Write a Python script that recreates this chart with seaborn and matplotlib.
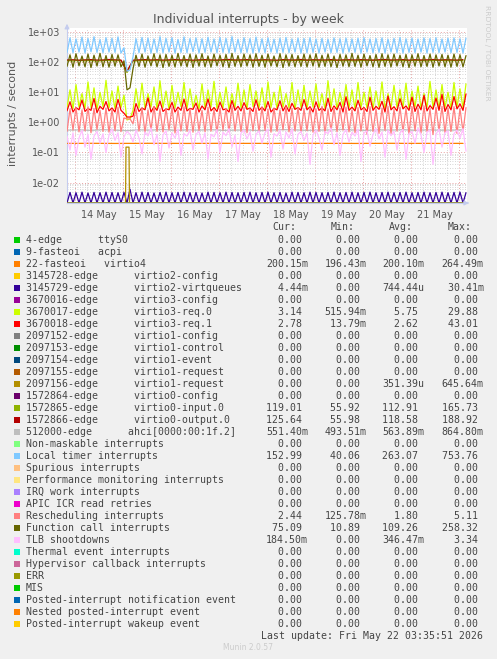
import numpy as np
import pandas as pd
import matplotlib
matplotlib.use("Agg")
import matplotlib.pyplot as plt
import matplotlib.dates as mdates
from matplotlib.patches import Rectangle
from matplotlib.ticker import LogLocator, NullFormatter, FuncFormatter
import seaborn as sns

# ---- data ----
t_start = "2026-05-13 20:00"
x_range = ["2026-05-13 20:00", "2026-05-22 04:00"]

local_timer = [
    210, 640, 205, 590, 215, 680, 200, 610, 220, 700, 210, 560, 205, 650, 215, 620,
    210, 690, 200, 300, 50, 55, 150, 600, 205, 660, 215, 630, 200, 590, 210, 700,
    205, 620, 215, 650, 200, 570, 210, 690, 205, 610, 220, 640, 200, 600, 210, 670,
    215, 590, 205, 660, 210, 620, 200, 700, 215, 580, 205, 650, 210, 610, 200, 680,
    210, 600, 205, 640, 215, 580, 200, 620, 210, 660, 205, 590, 215, 630, 200, 610,
    205, 650, 210, 590, 200, 620, 215, 580, 205, 640, 210, 600, 200, 630, 215, 590,
    210, 620, 200, 650, 215, 590, 205, 610, 210, 640, 200, 580, 215, 620, 205, 660,
    200, 600, 210, 630, 205, 590, 215, 640, 200, 610, 210, 650, 205, 590, 215, 620,
    205, 640, 210, 600, 200, 630,
]
function_call = [
    72, 175, 68, 190, 75, 160, 70, 185, 66, 170, 74, 195, 70, 165, 68, 180,
    73, 175, 70, 110, 12, 14, 60, 170, 72, 185, 68, 160, 75, 190, 70, 175,
    66, 180, 72, 170, 69, 195, 74, 165, 70, 185, 67, 175, 73, 190, 70, 160,
    68, 185, 75, 170, 70, 180, 66, 195, 72, 165, 70, 185, 74, 175, 68, 190,
    72, 170, 68, 185, 74, 160, 70, 190, 66, 175, 73, 180, 70, 165, 72, 185,
    69, 175, 74, 190, 68, 170, 72, 185, 70, 160, 66, 180, 73, 175, 70, 195,
    72, 170, 68, 185, 75, 165, 70, 180, 67, 190, 72, 175, 69, 185, 74, 170,
    70, 180, 66, 175, 73, 190, 70, 165, 72, 185, 68, 175, 74, 180, 70, 170,
    68, 185, 72, 175, 70, 165,
]
virtio3_req0 = [
    3.0, 12, 2.8, 18, 3.2, 9, 2.9, 22, 3.1, 14, 2.7, 10, 3.3, 25, 3.0, 11,
    2.8, 16, 3.1, 8, 1.2, 1.3, 2.5, 13, 3.0, 20, 2.9, 9, 3.2, 15, 2.8, 24,
    3.1, 11, 2.7, 17, 3.0, 10, 3.3, 21, 2.9, 13, 3.1, 8, 2.8, 19, 3.0, 12,
    3.2, 23, 2.9, 10, 3.0, 15, 2.7, 9, 3.1, 20, 3.0, 12, 2.8, 18, 3.3, 11,
    3.0, 14, 2.8, 22, 3.1, 10, 2.9, 16, 3.2, 9, 3.0, 21, 2.7, 12, 3.1, 17,
    2.9, 11, 3.2, 19, 3.0, 9, 2.8, 24, 3.1, 13, 2.9, 10, 3.3, 18, 3.0, 12,
    2.8, 21, 3.1, 10, 3.0, 15, 2.9, 11, 3.2, 22, 2.7, 9, 3.0, 17, 3.1, 12,
    3.0, 20, 2.8, 11, 3.2, 16, 2.9, 9, 3.1, 23, 3.0, 12, 2.8, 18, 3.1, 10,
    2.9, 21, 3.2, 13, 3.0, 19,
]
virtio3_req1 = [
    2.4, 4.8, 2.2, 3.1, 2.6, 5.5, 2.3, 2.9, 2.5, 6.2, 2.1, 3.4, 2.7, 4.9, 2.4, 3.0,
    2.2, 5.8, 2.5, 2.0, 1.5, 1.5, 1.6, 4.2, 2.3, 3.0, 2.6, 6.5, 2.2, 3.3, 2.5, 5.1,
    2.3, 2.8, 2.6, 4.6, 2.2, 3.2, 2.5, 5.9, 2.4, 2.9, 2.7, 4.4, 2.2, 3.5, 2.6, 6.0,
    2.4, 3.1, 2.3, 4.7, 2.6, 2.8, 2.2, 5.3, 2.5, 3.4, 2.4, 4.5, 2.7, 3.0, 2.3, 5.6,
    2.5, 3.2, 2.4, 4.9, 2.2, 2.9, 2.6, 5.2, 2.4, 3.6, 2.3, 4.3, 2.7, 3.1, 2.5, 5.7,
    2.6, 3.3, 2.2, 4.8, 2.5, 3.0, 2.4, 6.3, 2.3, 3.5, 2.6, 4.6, 2.2, 7.1, 2.5, 3.2,
    2.4, 5.4, 2.6, 3.1, 2.3, 6.8, 2.5, 3.4, 2.7, 5.0, 2.2, 7.5, 2.6, 3.3, 2.4, 6.1,
    2.8, 3.5, 2.5, 6.9, 2.3, 4.0, 2.6, 7.8, 2.4, 3.6, 2.7, 6.4, 2.5, 8.5, 2.3, 3.9,
    2.6, 7.2, 2.8, 4.1, 2.5, 8.8,
]
rescheduling = [
    0.50, 2.8, 0.55, 3.1, 0.48, 2.6, 0.52, 3.3, 0.45, 2.9, 0.58, 2.5, 0.50, 3.0, 0.47, 2.7,
    0.53, 3.2, 0.49, 1.4, 1.3, 1.3, 0.9, 2.8, 0.51, 3.0, 0.46, 2.6, 0.55, 3.4, 0.50, 2.7,
    0.48, 2.9, 0.56, 3.1, 0.44, 2.6, 0.52, 3.3, 0.50, 2.8, 0.47, 3.0, 0.54, 2.5, 0.49, 3.2,
    0.51, 2.7, 0.46, 3.0, 0.55, 2.9, 0.48, 3.4, 0.52, 2.6, 0.50, 3.1, 0.45, 2.8, 0.53, 3.0,
    0.49, 3.2, 0.54, 2.7, 0.47, 3.0, 0.51, 2.6, 0.56, 3.3, 0.48, 2.9, 0.52, 3.1, 0.46, 2.8,
    0.53, 3.0, 0.47, 2.8, 0.50, 3.4, 0.44, 2.7, 0.52, 3.1, 0.49, 2.9, 0.55, 3.2, 0.48, 2.6,
    0.45, 3.1, 0.52, 2.9, 0.40, 3.3, 0.50, 2.8, 0.43, 3.0, 0.54, 3.4, 0.42, 2.7, 0.51, 3.2,
    0.48, 2.9, 0.41, 3.3, 0.53, 3.0, 0.44, 3.5, 0.50, 2.8, 0.39, 3.2, 0.52, 3.4, 0.45, 3.0,
    0.50, 3.3, 0.43, 2.9, 0.48, 3.1,
]
tlb_shootdowns = [
    0.35, 0.12, 0.45, 0.08, 0.30, 0.55, 0.15, 0.40, 0.06, 0.35, 0.50, 0.20, 0.42, 0.10, 0.38, 0.60,
    0.25, 0.45, 0.07, 0.33, 0.50, 0.40, 0.22, 0.55, 0.30, 0.09, 0.48, 0.35, 0.65, 0.18, 0.40, 0.05,
    0.38, 0.52, 0.14, 0.45, 0.30, 0.60, 0.08, 0.42, 0.35, 0.55, 0.12, 0.40, 0.50, 0.20, 0.45, 0.06,
    0.40, 0.33, 0.58, 0.10, 0.47, 0.36, 0.62, 0.15, 0.38, 0.05, 0.44, 0.55, 0.28, 0.48, 0.11, 0.40,
    0.52, 0.20, 0.45, 0.60, 0.07, 0.42, 0.35, 0.55, 0.13, 0.48, 0.30, 0.62, 0.09, 0.40, 0.50, 0.25,
    0.44, 0.04, 0.38, 0.56, 0.30, 0.12, 0.50, 0.42, 0.65, 0.18, 0.45, 0.08, 0.40, 0.58, 0.22, 0.47,
    0.35, 0.60, 0.05, 0.45, 0.52, 0.16, 0.40, 0.62, 0.28, 0.48, 0.07, 0.55, 0.36, 0.50, 0.12, 0.44,
    0.58, 0.06, 0.42, 0.50, 0.20, 0.65, 0.38, 0.10, 0.47, 0.55, 0.04, 0.40, 0.60, 0.15, 0.45, 0.52,
    0.08, 0.42, 0.55, 0.30, 0.62, 0.11,
]
virtio2_virtqueues = [
    0, 0.0047, 0, 0.0046, 0, 0.0048, 0, 0.0045, 0, 0.0047, 0, 0.0046, 0, 0.0048, 0, 0.0047,
    0, 0.0046, 0, 0.0047, 0, 0.0060, 0, 0.0046, 0, 0.0048, 0, 0.0047, 0, 0.0045, 0, 0.0047,
    0, 0.0048, 0, 0.0046, 0, 0.0047, 0, 0.0048, 0, 0.0046, 0, 0.0047, 0, 0.0045, 0, 0.0048,
    0, 0.0047, 0, 0.0046, 0, 0.0048, 0, 0.0047, 0, 0.0046, 0, 0.0047, 0, 0.0048, 0, 0.0046,
    0, 0.0047, 0, 0.0048, 0, 0.0046, 0, 0.0047, 0, 0.0045, 0, 0.0048, 0, 0.0047, 0, 0.0046,
    0, 0.0048, 0, 0.0047, 0, 0.0046, 0, 0.0047, 0, 0.0048, 0, 0.0046, 0, 0.0047, 0, 0.0048,
    0, 0.0046, 0, 0.0047, 0, 0.0048, 0, 0.0046, 0, 0.0047, 0, 0.0048, 0, 0.0046, 0, 0.0047,
    0, 0.0048, 0, 0.0046, 0, 0.0047, 0, 0.0048, 0, 0.0046, 0, 0.0047, 0, 0.0048, 0, 0.0046,
    0, 0.0047, 0, 0.0048, 0, 0.0046,
]
virtio0_input = [
    112, 110, 114, 111, 113, 109, 112, 115, 110, 113, 45, 108, 112, 114, 111, 113,
    110, 112, 115, 111, 113, 109, 112, 114, 110, 113, 111, 115, 112, 110, 114, 112,
    113, 111, 109, 112, 114, 110, 113, 112, 115, 111, 112, 110, 113, 114, 111, 112,
    110, 113, 112, 115, 111, 114, 112, 110, 113, 111, 114, 112, 110, 113, 115, 112,
    111, 113, 112,
]
virtio0_output = [
    118, 120, 116, 119, 121, 117, 118, 122, 119, 117, 50, 116, 119, 121, 118, 120,
    117, 119, 122, 118, 120, 116, 119, 121, 118, 117, 120, 122, 118, 119, 121, 117,
    119, 120, 118, 116, 121, 119, 118, 122, 117, 120, 119, 118, 121, 117, 119, 120,
    118, 121, 119, 117, 120, 122, 118, 119, 121, 117, 120, 118, 119, 122, 118, 120,
    119, 117, 121,
]
ahci = [
    0.55, 0.56, 0.54, 0.57, 0.55, 0.53, 0.56, 0.55, 0.58, 0.54, 0.56, 0.55,
    0.57, 0.54, 0.55, 0.56, 0.53, 0.55, 0.57, 0.56, 0.54, 0.55, 0.56, 0.58,
    0.55, 0.54, 0.56, 0.55, 0.57, 0.54, 0.56, 0.55, 0.55, 0.56,
]
virtio4 = [
    0.200, 0.200, 0.201, 0.200, 0.199, 0.200, 0.200, 0.201, 0.200, 0.200, 0.199, 0.200,
    0.200, 0.201, 0.200, 0.200, 0.200, 0.199, 0.200, 0.200, 0.201, 0.200, 0.200, 0.200,
    0.199, 0.200, 0.200, 0.201, 0.200, 0.200, 0.200, 0.199, 0.200, 0.200,
]
virtio1_request_times = ["2026-05-13 20:00", "2026-05-15 01:15", "2026-05-15 01:30",
                         "2026-05-15 03:00", "2026-05-15 03:15", "2026-05-22 03:30"]
virtio1_request_vals = [0, 0, 0.15, 0.15, 0, 0]

labels = [
    "4-edge      ttyS0", "9-fasteoi   acpi", "22-fasteoi   virtio4",
    "3145728-edge      virtio2-config", "3145729-edge      virtio2-virtqueues",
    "3670016-edge      virtio3-config", "3670017-edge      virtio3-req.0",
    "3670018-edge      virtio3-req.1", "2097152-edge      virtio1-config",
    "2097153-edge      virtio1-control", "2097154-edge      virtio1-event",
    "2097155-edge      virtio1-request", "2097156-edge      virtio1-request",
    "1572864-edge      virtio0-config", "1572865-edge      virtio0-input.0",
    "1572866-edge      virtio0-output.0", "512000-edge      ahci[0000:00:1f.2]",
    "Non-maskable interrupts", "Local timer interrupts", "Spurious interrupts",
    "Performance monitoring interrupts", "IRQ work interrupts", "APIC ICR read retries",
    "Rescheduling interrupts", "Function call interrupts", "TLB shootdowns",
    "Thermal event interrupts", "Hypervisor callback interrupts", "ERR", "MIS",
    "Posted-interrupt notification event", "Nested posted-interrupt event",
    "Posted-interrupt wakeup event",
]
colors = [
    "#00CC00", "#0066B3", "#FF8000", "#FFCC00", "#330099", "#990099", "#CCFF00", "#FF0000",
    "#808080", "#008F00", "#00487D", "#B35A00", "#B38F00", "#6B006B", "#8FB300", "#B30000",
    "#BEBEBE", "#80FF80", "#80C9FF", "#FFC080", "#FFE680", "#AA80FF", "#EE00CC", "#FF8080",
    "#666600", "#FFBFFF", "#00FFCC", "#CC6699", "#999900", "#00CC00", "#0066B3", "#FF8000",
    "#FFCC00",
]
cur = ["0.00", "0.00", "200.15m", "0.00", "4.44m", "0.00", "3.14", "2.78", "0.00", "0.00",
       "0.00", "0.00", "0.00", "0.00", "119.01", "125.64", "551.40m", "0.00", "152.99", "0.00",
       "0.00", "0.00", "0.00", "2.44", "75.09", "184.50m", "0.00", "0.00", "0.00", "0.00",
       "0.00", "0.00", "0.00"]
mins = ["0.00", "0.00", "196.43m", "0.00", "0.00", "0.00", "515.94m", "13.79m", "0.00", "0.00",
        "0.00", "0.00", "0.00", "0.00", "55.92", "55.98", "493.51m", "0.00", "40.06", "0.00",
        "0.00", "0.00", "0.00", "125.78m", "10.89", "0.00", "0.00", "0.00", "0.00", "0.00",
        "0.00", "0.00", "0.00"]
avgs = ["0.00", "0.00", "200.10m", "0.00", "744.44u", "0.00", "5.75", "2.62", "0.00", "0.00",
        "0.00", "0.00", "351.39u", "0.00", "112.91", "118.58", "563.89m", "0.00", "263.07", "0.00",
        "0.00", "0.00", "0.00", "1.80", "109.26", "346.47m", "0.00", "0.00", "0.00", "0.00",
        "0.00", "0.00", "0.00"]
maxs = ["0.00", "0.00", "264.49m", "0.00", "30.41m", "0.00", "29.88", "43.01", "0.00", "0.00",
        "0.00", "0.00", "645.64m", "0.00", "165.73", "188.92", "864.80m", "0.00", "753.76", "0.00",
        "0.00", "0.00", "0.00", "5.11", "258.32", "3.34", "0.00", "0.00", "0.00", "0.00",
        "0.00", "0.00", "0.00"]

# ---- build series ----
t_fine = pd.date_range(t_start, periods=len(local_timer), freq="90min")
t_3h = pd.date_range(t_start, periods=len(virtio0_input), freq="3h")
t_6h = pd.date_range(t_start, periods=len(ahci), freq="6h")
t_zero = pd.to_datetime(x_range)

series = {
    2: (t_6h, virtio4),
    4: (t_fine, virtio2_virtqueues),
    6: (t_fine, virtio3_req0),
    7: (t_fine, virtio3_req1),
    12: (pd.to_datetime(virtio1_request_times), virtio1_request_vals),
    14: (t_3h, virtio0_input),
    15: (t_3h, virtio0_output),
    16: (t_6h, ahci),
    18: (t_fine, local_timer),
    23: (t_fine, rescheduling),
    24: (t_fine, function_call),
    25: (t_fine, tlb_shootdowns),
}

W, H = 497, 659
y_lo, y_hi = 0.00209, 1360

sns.set_style("white")
plt.rcParams["font.family"] = ["DejaVu Sans"]

fig = plt.figure(figsize=(W / 100, H / 100), dpi=100, facecolor="#F0F0F0")
ax = fig.add_axes([67 / W, 1 - 203 / H, 400 / W, 175 / H])
ax.set_facecolor("white")
ax.set_yscale("log")

for k in range(len(labels)):
    t, v = series.get(k, (t_zero, [0, 0]))
    v = np.clip(np.asarray(v, dtype=float), y_lo, None)
    sns.lineplot(x=t, y=v, color=colors[k], linewidth=0.9, estimator=None,
                 ax=ax, legend=False, zorder=3)

ax.set_ylim(y_lo, y_hi)
ax.set_xlim(pd.to_datetime(x_range[0]), pd.to_datetime(x_range[1]))

# grids as in rrdtool: minor grey dotted, major red dotted
ax.yaxis.set_major_locator(LogLocator(base=10, numticks=12))
ax.yaxis.set_minor_locator(LogLocator(base=10, subs=np.arange(2, 10), numticks=12))
ax.yaxis.set_major_formatter(FuncFormatter(lambda v, p: f"{v:.0e}"))
ax.yaxis.set_minor_formatter(NullFormatter())
ax.xaxis.set_major_locator(mdates.DayLocator())
ax.xaxis.set_major_formatter(NullFormatter())
ax.xaxis.set_minor_locator(mdates.HourLocator(byhour=[6, 12, 18]))
ax.xaxis.set_minor_formatter(FuncFormatter(
    lambda v, p: mdates.num2date(v).strftime("%d %b") if mdates.num2date(v).hour == 12 else ""))
ax.grid(True, which="major", color="#E8A0A0", linestyle=(0, (1, 2)), linewidth=0.7, zorder=1)
ax.grid(True, which="minor", color="#C8C8C8", linestyle=(0, (1, 2)), linewidth=0.6, zorder=1)
ax.set_axisbelow(True)
ax.tick_params(axis="both", which="both", length=0, labelsize=7, colors="#555555", pad=5)
ax.tick_params(axis="x", which="minor", pad=5)

for s in ["top", "right"]:
    ax.spines[s].set_visible(False)
for s in ["left", "bottom"]:
    ax.spines[s].set_color("#C4CCEE")
    ax.spines[s].set_linewidth(0.8)
ax.annotate("", xy=(0, 1.04), xytext=(0, 0.99), xycoords="axes fraction",
            arrowprops=dict(arrowstyle="-|>", color="#C4CCEE", lw=0.8, mutation_scale=7))
ax.annotate("", xy=(1.012, 0), xytext=(0.995, 0), xycoords="axes fraction",
            arrowprops=dict(arrowstyle="-|>", color="#C4CCEE", lw=0.8, mutation_scale=7))

ax.set_xlabel("")
ax.set_ylabel("interrupts / second", fontsize=8, color="#555555")
ax.yaxis.set_label_coords(-49 / 400, 0.51)


def fx(x):
    return x / W


def fy(y):
    return 1 - y / H


fig.text(fx(248), fy(20), "Individual interrupts - by week", ha="center", va="center",
         fontsize=9, color="#555555")
fig.text(fx(487), fy(53), "RRDTOOL / TOBI OETIKER", ha="center", va="center",
         rotation=270, fontsize=5.4, color="#CCCCCC")

mono = dict(family=["DejaVu Sans Mono"], fontsize=7.1, color="#444444", va="center")


def cell(s):
    return (s if s[-1] in "mu" else s + " ").rjust(7)


cols = [266, 324.5, 382.5, 441.5]
for c, head in zip(cols, ["Cur:", "Min:", "Avg:", "Max:"]):
    fig.text(fx(c + 6), fy(227), head, **mono)

for k, name in enumerate(labels):
    y = 240 + 12 * k
    fig.add_artist(Rectangle((fx(14), fy(y + 3)), 6 / W, 6 / H, transform=fig.transFigure,
                             facecolor=colors[k], edgecolor="none"))
    fig.text(fx(26), fy(y), name, **mono)
    for c, vals in zip(cols, [cur, mins, avgs, maxs]):
        fig.text(fx(c), fy(y), cell(vals[k]), **mono)

fig.text(fx(483), fy(636), "Last update: Fri May 22 03:35:51 2026", ha="right", **mono)
fig.text(fx(248), fy(648), "Munin 2.0.57", ha="center", va="center", fontsize=5.5,
         color="#CCCCCC")

fig.savefig("out.png", dpi=100, facecolor=fig.get_facecolor())
